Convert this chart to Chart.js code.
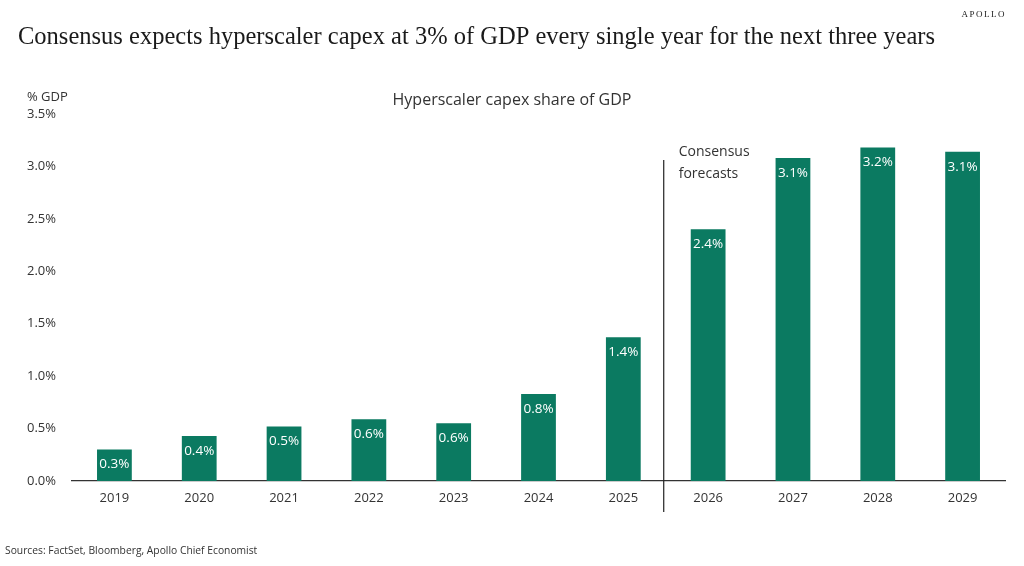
<!DOCTYPE html>
<html>
<head>
<meta charset="utf-8">
<script src="https://cdn.jsdelivr.net/npm/chart.js@4"></script>
<style>
	html, body { margin: 0; padding: 0; background: #fff; }
	#wrap { position: relative; width: 1024px; height: 566px; }
</style>
</head>
<body>
<div id="wrap"><canvas id="capex" width="1024" height="566"></canvas></div>
<script>
const years = ['2019', '2020', '2021', '2022', '2023', '2024', '2025', '2026', '2027', '2028', '2029']
const capexShare = [0.30, 0.43, 0.52, 0.59, 0.55, 0.83, 1.37, 2.40, 3.08, 3.18, 3.14]
const yTicks = [0, 0.5, 1, 1.5, 2, 2.5, 3, 3.5]

const barColor = '#0b7a61'
const textColor = '#333333'
const sans = '"Open Sans", "Noto Sans", sans-serif'
const serif = '"Liberation Serif", "DejaVu Serif", serif'

// page title, chart title, source note and the forecast divider
const decorations = {
	id: 'decorations',
	afterDatasetsDraw(chart) {
		const { ctx, scales: { x } } = chart
		ctx.save()

		// value labels inside the bars
		ctx.fillStyle = '#ffffff'
		ctx.font = '13.5px ' + sans
		ctx.textAlign = 'center'
		ctx.textBaseline = 'middle'
		chart.getDatasetMeta(0).data.forEach((bar, i) => {
			ctx.fillText(capexShare[i].toFixed(1) + '%', bar.x, bar.y + 15)
		})

		// divider between actuals and forecasts
		const split = (x.getPixelForTick(6) + x.getPixelForTick(7)) / 2 - 2
		ctx.strokeStyle = '#222'
		ctx.lineWidth = 1.2
		ctx.beginPath()
		ctx.moveTo(split, 160)
		ctx.lineTo(split, 512)
		ctx.stroke()

		ctx.fillStyle = textColor
		ctx.font = '14px ' + sans
		ctx.textAlign = 'left'
		ctx.fillText('Consensus', split + 15, 152)
		ctx.fillText('forecasts', split + 15, 174)

		// axis unit
		ctx.font = '13px ' + sans
		ctx.fillText('% GDP', 27, 97)

		// chart title
		ctx.font = '16px ' + sans
		ctx.textAlign = 'center'
		ctx.fillText('Hyperscaler capex share of GDP', 512, 100)

		// headline, squeezed a little to the width of the original
		const headline = 'Consensus expects hyperscaler capex at 3% of GDP every single year for the next three years'
		ctx.fillStyle = '#1a1a1a'
		ctx.font = '26px ' + serif
		ctx.textAlign = 'left'
		const squeeze = 917 / ctx.measureText(headline).width
		ctx.save()
		ctx.translate(18, 37)
		ctx.scale(squeeze, 1)
		ctx.fillText(headline, 0, 0)
		ctx.restore()

		ctx.font = '9px ' + serif
		ctx.textAlign = 'right'
		ctx.letterSpacing = '1.5px'
		ctx.fillText('APOLLO', 1006, 15)
		ctx.letterSpacing = '0px'

		ctx.font = '10.3px ' + sans
		ctx.textAlign = 'left'
		ctx.fillStyle = textColor
		ctx.fillText('Sources: FactSet, Bloomberg, Apollo Chief Economist', 5, 551)

		ctx.restore()
	}
}

new Chart(document.getElementById('capex').getContext('2d'), {
	type: 'bar',
	data: {
		labels: years,
		datasets: [{
			data: capexShare,
			backgroundColor: barColor,
			borderWidth: 0,
			barPercentage: 0.41,
			categoryPercentage: 1,
		}]
	},
	plugins: [decorations],
	options: {
		responsive: false,
		animation: false,
		devicePixelRatio: 1,
		layout: {
			padding: { left: 27, top: 114, right: 19, bottom: 0 }
		},
		scales: {
			x: {
				grid: { display: false, drawTicks: false },
				border: { display: true, color: '#333', width: 1.2 },
				ticks: {
					color: textColor,
					font: { family: sans, size: 13 },
					padding: 9,
				},
				afterFit: (scale) => { scale.height = 85 }
			},
			y: {
				min: 0,
				max: 3.5,
				grid: { display: false, drawTicks: false },
				border: { display: false },
				afterBuildTicks: (scale) => {
					scale.ticks = yTicks.map(v => ({ value: v }))
				},
				ticks: {
					color: textColor,
					font: { family: sans, size: 13 },
					crossAlign: 'far',
					callback: (value) => value.toFixed(1) + '%'
				},
				afterFit: (scale) => { scale.width = 45 }
			}
		},
		plugins: {
			legend: { display: false },
			tooltip: { enabled: false },
			title: { display: false }
		}
	}
})
</script>
</body>
</html>
